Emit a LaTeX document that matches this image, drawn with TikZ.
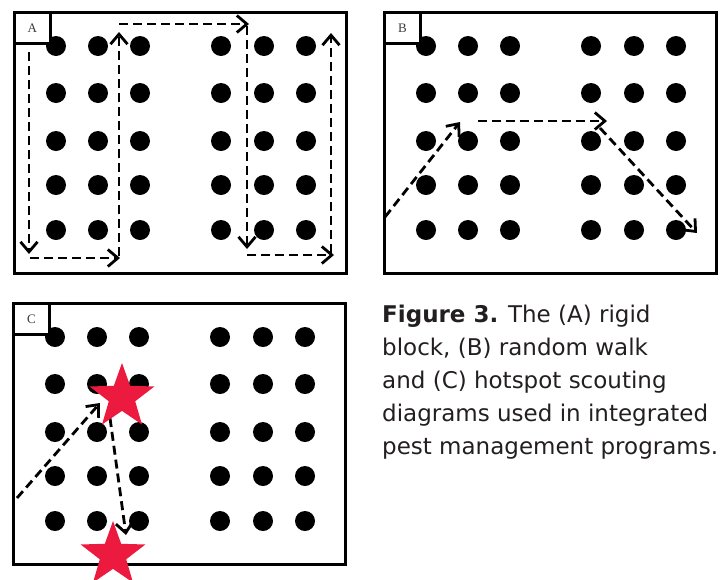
\documentclass[tikz,border=0pt]{standalone}
\usepackage{fontspec}
\setsansfont{DejaVu Sans}
\newfontfamily\tagfont{Liberation Serif}
\usetikzlibrary{arrows.meta, shapes.geometric}
\definecolor{spotred}{RGB}{236,26,62}
\definecolor{taggray}{RGB}{60,60,60}
\definecolor{captiongray}{RGB}{35,31,32}

\tikzset{
    plant/.style={circle, fill=black, inner sep=0pt, minimum size=20pt},
    field/.style={draw=black, line width=2.8pt, inner sep=0pt, anchor=north west,
        minimum width=332pt, minimum height=261pt},
    tag/.style={draw=black, line width=2.8pt, fill=white, inner sep=0pt, anchor=north west,
        minimum width=36pt, minimum height=31pt, text=taggray, font=\tagfont\fontsize{13}{13}\selectfont},
    walk/.style={line width=2.8pt, dash pattern=on 9pt off 5pt,
        -{Straight Barb[length=10pt, width=17pt]}},
    hotspot/.style={star, star points=5, star point ratio=2.45, fill=spotred,
        inner sep=0pt, minimum size=68pt},
    caption/.style={anchor=base west, inner sep=0pt, text=captiongray,
        font=\sffamily\fontsize{23}{28}\selectfont}
}

\begin{document}
\begin{tikzpicture}[x=1pt, y=-1pt]
    \useasboundingbox (0,0) rectangle (722,579);

    % fields with the rows of plants
    \foreach \p/\ox/\oy in {A/0/0, B/370/0, C/-1/291} {
            \node[field] (field\p) at (13+\ox, 11+\oy) {};
            \foreach \x [count=\i] in {56, 98, 140, 221, 264, 306} {
                    \foreach \y [count=\j] in {46, 93, 141, 185, 230} {
                            \node[plant] (\p-\i-\j) at (\x+\ox, \y+\oy) {};
                        }
                }
            \node[tag] (tag\p) at (13+\ox, 11+\oy) {\p};
        }

    % scouting paths
    \foreach \n/\xa/\ya/\xb/\yb in {
            a1/29/52/29/254, a2/30/258/120/258, a3/119/256/119/32, a4/119/24/249/24,
            a5/247/26/247/249, a6/247/255/334/255, a7/331/253/331/33,
            b1/385/217/460/122, b2/478/121/607/121, b3/600/128/697/233,
            c1/17/498/100/403, c2/110/418/126/535
        } {
            \coordinate (\n s) at (\xa, \ya);
            \coordinate (\n e) at (\xb, \yb);
            \draw[walk] (\n s) -- (\n e);
        }

    % hotspots
    \node[hotspot] (spot1) at (122, 397) {};
    \node[hotspot] (spot2) at (113, 555) {};

    % caption
    \node[caption] (cap1) at (382, 322) {\textbf{Figure 3.} The (A) rigid};
    \node[caption] (cap2) at (382, 355) {block, (B) random walk};
    \node[caption] (cap3) at (382, 388) {and (C) hotspot scouting};
    \node[caption] (cap4) at (382, 421) {diagrams used in integrated};
    \node[caption] (cap5) at (382, 454) {pest management programs.};
\end{tikzpicture}
\end{document}
